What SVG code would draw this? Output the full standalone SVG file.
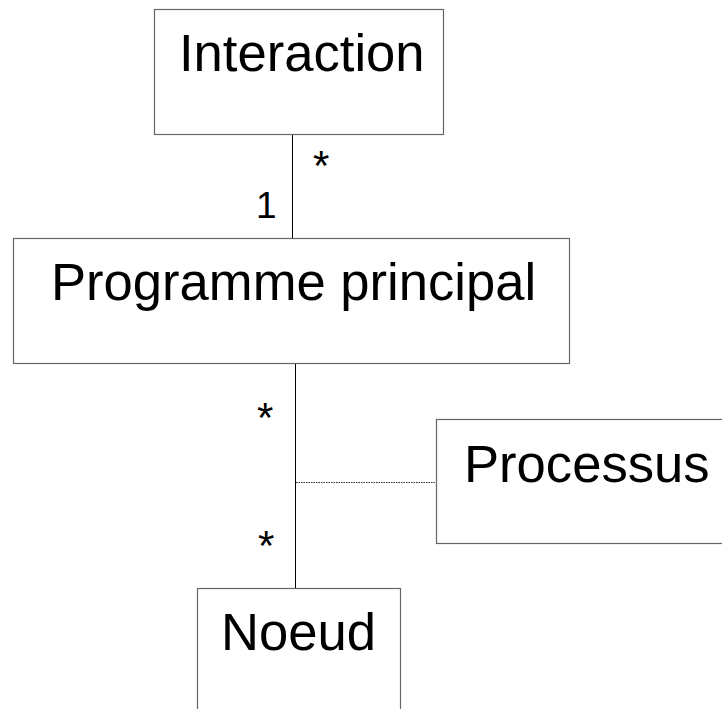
<svg xmlns="http://www.w3.org/2000/svg" width="722" height="709" viewBox="0 0 722 709">
<style>
.box{fill:#ffffff;stroke:#666666;stroke-width:1.2}
.lbl{font-family:"Liberation Sans",Arial,sans-serif;font-size:52.6px;fill:#000000}
.mult{font-family:"Liberation Sans",Arial,sans-serif;font-size:37px;fill:#000000}
.star{font-family:"Liberation Sans",Arial,sans-serif;font-size:42px;fill:#000000}
.conn{stroke:#000000;stroke-width:1;fill:none}
.dot{stroke:#333333;stroke-width:1;stroke-dasharray:1.5,1;fill:none}
</style>
<rect width="722" height="709" fill="#ffffff"/>
<g id="connectors">
<line class="conn" x1="292.5" y1="134" x2="292.5" y2="238"/>
<line class="conn" x1="295.5" y1="363" x2="295.5" y2="588"/>
<line class="dot" x1="296" y1="482.5" x2="436" y2="482.5"/>
<text class="star" x="313" y="180">*</text>
<text class="mult" x="256" y="218">1</text>
<text class="star" x="257" y="432">*</text>
<text class="star" x="258" y="560">*</text>
</g>
<g id="interaction">
<rect class="box" x="154.5" y="9.5" width="289" height="125"/>
<text class="lbl" x="179" y="71">Interaction</text>
</g>
<g id="programme">
<rect class="box" x="13.5" y="238.5" width="556" height="125"/>
<text class="lbl" x="51" y="300">Programme principal</text>
</g>
<g id="processus">
<rect class="box" x="436.5" y="419.5" width="300" height="124"/>
<text class="lbl" x="464" y="482">Processus</text>
</g>
<g id="noeud">
<rect class="box" x="197.5" y="588.5" width="203" height="140"/>
<text class="lbl" x="221" y="650">Noeud</text>
</g>
</svg>
